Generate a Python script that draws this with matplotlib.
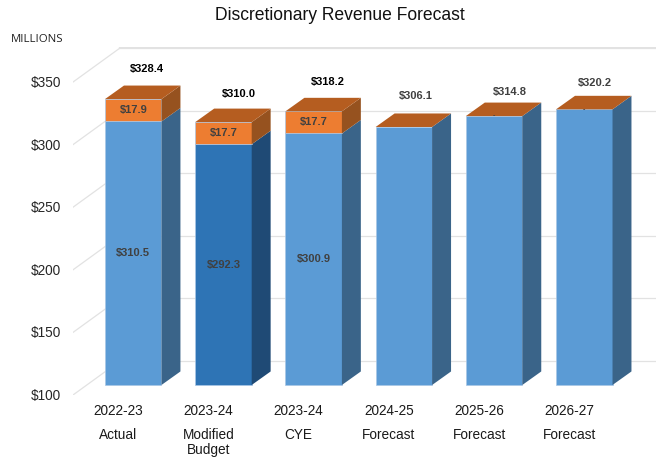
import numpy as np
import matplotlib
matplotlib.use('Agg')
import matplotlib.pyplot as plt

plt.rcParams['font.family'] = ['Liberation Sans', 'DejaVu Sans']

years = ['2022-23', '2023-24', '2023-24', '2024-25', '2025-26', '2026-27']
kinds = ['Actual', 'Modified\nBudget', 'CYE', 'Forecast', 'Forecast', 'Forecast']
base_values = [310.5, 292.3, 300.9, 306.1, 314.8, 320.2]
extra_values = [17.9, 17.7, 17.7, 0, 0, 0]
totals = [328.4, 310.0, 318.2, 306.1, 314.8, 320.2]
y_ticks = [100, 150, 200, 250, 300, 350]

# the forecast bars carry only the total, the budget ones carry their parts too
show_parts = [True, True, True, False, False, False]
# leftover zero labels in the source, they show as a tiny dash
show_dash = [False, False, False, False, True, True]

# fine tuning of the total labels, in pixels from the bar's front top corner centre
total_dx = [14, 15, 14, 12, 16, 11]
total_dy = [30, 28, 29, 31, 24, 26]
total_colors = ['black', 'black', 'black', '#404040', '#404040', '#404040']

BAR_W = 0.626
DEPTH_X = 0.21
DEPTH_Y = 10.8
FLOOR = 100
GRID = '#e2e2e2'

# one colour set per bar: front, side
blue = ('#5b9bd5', '#3a6489')
dark = ('#2e74b5', '#1f4a75')
orange = ('#ed7d31', '#96521f')
top_color = '#b55d20'

fig = plt.figure(figsize=(6.56, 4.57), dpi=100)
ax = fig.add_axes([73 / 656, 62 / 457, 583 / 656, 348 / 457])
ax.set_xlim(-0.668, 5.795)
ax.set_ylim(92, 370)
ax.axis('off')

# back wall and the floor lines running to the tick labels
wall_x = -0.147
for v in y_ticks:
    ax.plot([-0.668, wall_x], [v - 8, v + 19.2], color=GRID, lw=0.9, zorder=1)
    ax.plot([wall_x, 5.795], [v + 19.2, v + 19.2], color=GRID,
            lw=1.6 if v == 350 else 0.9, zorder=1)
    ax.annotate(f'${v}', (-0.668, v - 8), xytext=(-12, -1), textcoords='offset pixels',
                ha='right', va='center', fontsize=9.8, color='#262626')


def draw_segment(i, bottom, height, front, side):
    right = i + BAR_W / 2
    top = bottom + height
    ax.bar(i, height, BAR_W, bottom=bottom, color=front, edgecolor='#a9c7e6',
           linewidth=0.5, zorder=3)
    ax.fill([right, right + DEPTH_X, right + DEPTH_X, right],
            [bottom, bottom + DEPTH_Y, top + DEPTH_Y, top],
            facecolor=side, edgecolor='none', zorder=3)


for i in range(len(years)):
    base = base_values[i]
    extra = extra_values[i]
    colors = dark if i == 1 else blue
    draw_segment(i, FLOOR, base - FLOOR, *colors)
    if show_parts[i]:
        ax.text(i, (FLOOR + base) / 2, f'${base:.1f}', ha='center', va='center',
                fontsize=8, fontweight='bold', color='#404040', zorder=5)
    if extra > 0:
        draw_segment(i, base, extra, *orange)
        ax.text(i, base + extra / 2, f'${extra:.1f}', ha='center', va='center',
                fontsize=8, fontweight='bold', color='#404040', zorder=5)

    # top face
    top = base + extra
    left, right = i - BAR_W / 2, i + BAR_W / 2
    ax.fill([left, right, right + DEPTH_X, left + DEPTH_X],
            [top, top, top + DEPTH_Y, top + DEPTH_Y],
            facecolor=top_color, edgecolor='none', zorder=4)

    if show_dash[i]:
        ax.text(i, top, '-', ha='center', va='center', fontsize=5,
                fontweight='bold', color='#404040', zorder=5)

    # total above the bar
    ax.annotate(f'${totals[i]:.1f}', (i, top), xytext=(total_dx[i], total_dy[i]),
                textcoords='offset pixels', ha='center', va='center', fontsize=8,
                fontweight='bold', color=total_colors[i], zorder=5)

    # category labels, two rows under the floor
    tr = ax.get_xaxis_transform()
    ax.annotate(years[i], (i, 0), xycoords=tr, xytext=(-15, -16), textcoords='offset pixels',
                ha='center', va='center', fontsize=9.8, color='#1a1a1a', annotation_clip=False)
    ax.annotate(kinds[i], (i, 0), xycoords=tr, xytext=(-15, -33), textcoords='offset pixels',
                ha='center', va='top', fontsize=9.8, color='#1a1a1a', linespacing=1.1,
                annotation_clip=False)

fig.text(340 / 656, 1 - 16 / 457, 'Discretionary Revenue Forecast', ha='center', va='center',
         fontsize=12.65, color='#111111')
fig.text(11 / 656, 1 - 39 / 457, 'MILLIONS', ha='left', va='center', fontsize=8.2,
         family=['Open Sans', 'DejaVu Sans'], color='#222222')

fig.savefig('out.png', dpi=100, facecolor='white')
